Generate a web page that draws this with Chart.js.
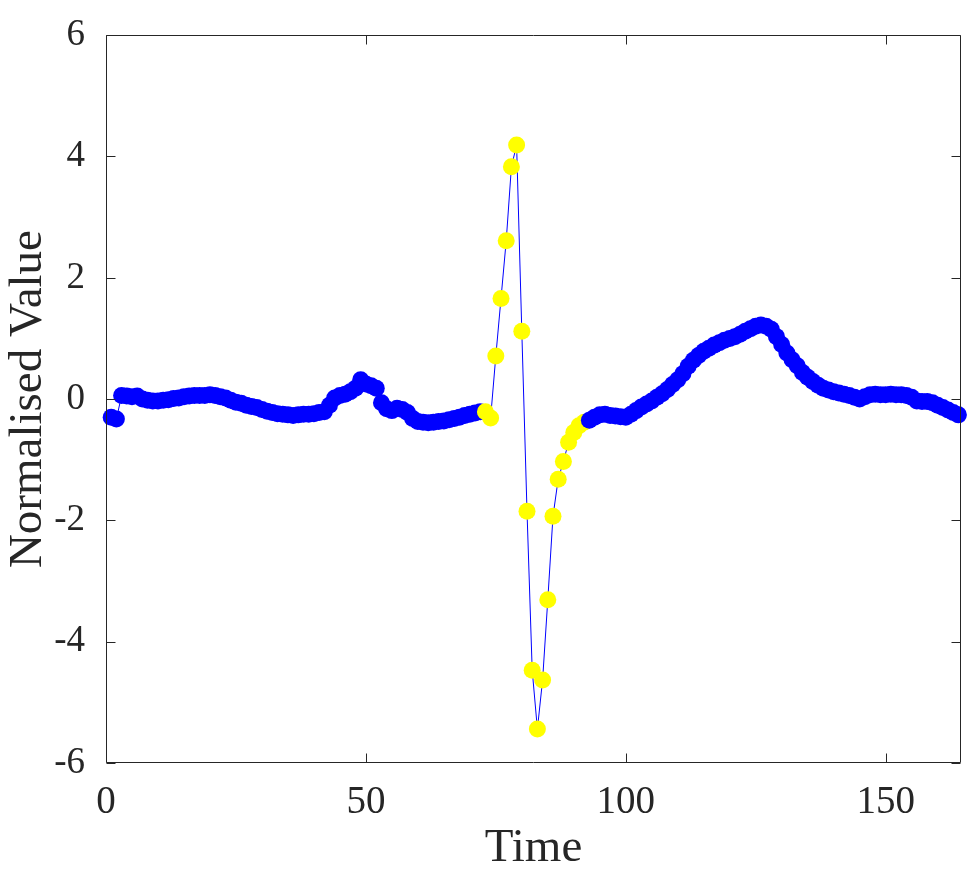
<!DOCTYPE html>
<html>
<head>
<meta charset="utf-8">
<script src="https://cdn.jsdelivr.net/npm/chart.js@4"></script>
<style>
  html, body { margin: 0; padding: 0; background: #fff; }
</style>
</head>
<body>
<canvas id="chart" width="980" height="872"></canvas>
<script>
// sample times and normalised values
const time = [
  1, 2, 3, 4, 5, 6, 7, 8, 9, 10, 11, 12, 13, 14, 15, 16, 17, 18, 19, 20,
  21, 22, 23, 24, 25, 26, 27, 28, 29, 30, 31, 32, 33, 34, 35, 36, 37, 38, 39, 40,
  41, 42, 43, 44, 45, 46, 47, 48, 49, 50, 51, 52, 53, 54, 55, 56, 57, 58, 59, 60,
  61, 62, 63, 64, 65, 66, 67, 68, 69, 70, 71, 72, 73, 74, 75, 76, 77, 78, 79, 80,
  81, 82, 83, 84, 85, 86, 87, 88, 89, 90, 91, 92, 93, 94, 95, 96, 97, 98, 99, 100,
  101, 102, 103, 104, 105, 106, 107, 108, 109, 110, 111, 112, 113, 114, 115, 116, 117, 118, 119, 120,
  121, 122, 123, 124, 125, 126, 127, 128, 129, 130, 131, 132, 133, 134, 135, 136, 137, 138, 139, 140,
  141, 142, 143, 144, 145, 146, 147, 148, 149, 150, 151, 152, 153, 154, 155, 156, 157, 158, 159, 160,
  161, 162, 163, 164
];

const value = [
  -0.30, -0.33, 0.06, 0.05, 0.04, 0.05, 0.00, -0.02, -0.03, -0.03,
  -0.02, -0.01, 0.01, 0.02, 0.04, 0.05, 0.06, 0.06, 0.06, 0.07,
  0.06, 0.04, 0.02, -0.02, -0.05, -0.07, -0.10, -0.12, -0.14, -0.17,
  -0.20, -0.22, -0.24, -0.25, -0.26, -0.27, -0.26, -0.25, -0.25, -0.24,
  -0.22, -0.21, -0.10, 0.02, 0.06, 0.08, 0.12, 0.18, 0.32, 0.25,
  0.22, 0.18, -0.06, -0.16, -0.19, -0.15, -0.17, -0.22, -0.32, -0.37,
  -0.38, -0.39, -0.38, -0.37, -0.36, -0.34, -0.32, -0.30, -0.27, -0.25,
  -0.23, -0.21, -0.21, -0.31, 0.71, 1.66, 2.61, 3.83, 4.19, 1.12,
  -1.85, -4.47, -5.44, -4.63, -3.31, -1.93, -1.32, -1.03, -0.71, -0.55,
  -0.44, -0.38, -0.35, -0.30, -0.26, -0.25, -0.27, -0.28, -0.29, -0.30,
  -0.25, -0.19, -0.13, -0.08, -0.03, 0.03, 0.09, 0.16, 0.24, 0.32,
  0.42, 0.54, 0.64, 0.72, 0.79, 0.84, 0.89, 0.93, 0.97, 1.00,
  1.03, 1.07, 1.12, 1.16, 1.20, 1.22, 1.20, 1.15, 1.03, 0.90,
  0.76, 0.65, 0.55, 0.44, 0.36, 0.29, 0.23, 0.18, 0.15, 0.12,
  0.10, 0.08, 0.06, 0.03, 0.00, 0.04, 0.07, 0.08, 0.07, 0.07,
  0.08, 0.07, 0.07, 0.06, 0.03, -0.03, -0.04, -0.04, -0.06, -0.10,
  -0.14, -0.18, -0.22, -0.26
];

// samples drawn in yellow (the beat)
const anomalyTimes = [73, 74, 75, 76, 77, 78, 79, 80, 81, 82, 83, 84, 85, 86, 87, 88, 89, 90, 91, 92];

const xTicks = [0, 50, 100, 150];
const yTicks = [-6, -4, -2, 0, 2, 4, 6];

const AXIS = '#262626';
const BLUE = '#0000ff';
const YELLOW = '#ffff00';
const SERIF = '"Liberation Serif", "DejaVu Serif", serif';

// MATLAB-style box with inward tick marks on all four sides
const frame = {
  id: 'frame',
  afterDatasetsDraw(chart) {
    const { ctx, chartArea: a, scales } = chart;
    const tl = 9;
    const L = Math.round(a.left) + 0.5;
    const R = Math.round(a.right) - 0.5;
    const T = Math.round(a.top) + 0.5;
    const B = Math.round(a.bottom) - 0.5;
    ctx.save();
    ctx.strokeStyle = AXIS;
    ctx.lineWidth = 1;
    ctx.beginPath();
    ctx.rect(L, T, R - L, B - T);
    scales.x.ticks.forEach((t) => {
      const px = Math.round(scales.x.getPixelForValue(t.value)) + 0.5;
      ctx.moveTo(px, B);
      ctx.lineTo(px, B - tl);
      ctx.moveTo(px, T);
      ctx.lineTo(px, T + tl);
    });
    scales.y.ticks.forEach((t) => {
      const py = Math.round(scales.y.getPixelForValue(t.value)) + 0.5;
      ctx.moveTo(L, py);
      ctx.lineTo(L + tl, py);
      ctx.moveTo(R, py);
      ctx.lineTo(R - tl, py);
    });
    ctx.stroke();
    ctx.restore();
  }
};

const pointColors = time.map((t) => (anomalyTimes.includes(t) ? YELLOW : BLUE));

new Chart(document.getElementById('chart').getContext('2d'), {
  type: 'line',
  data: {
    datasets: [
      {
        data: time.map((t, i) => ({ x: t, y: value[i] })),
        borderColor: BLUE,
        borderWidth: 1,
        tension: 0,
        pointRadius: 8.5,
        pointBorderWidth: 0,
        pointBackgroundColor: pointColors,
        pointBorderColor: pointColors,
        clip: false
      }
    ]
  },
  options: {
    responsive: false,
    animation: false,
    devicePixelRatio: 1,
    layout: { padding: { top: 33, right: 19, left: 0, bottom: 0 } },
    plugins: { legend: { display: false }, tooltip: { enabled: false } },
    scales: {
      x: {
        type: 'linear',
        min: 0,
        max: 164.5,
        afterBuildTicks: (s) => { s.ticks = xTicks.map((v) => ({ value: v })); },
        afterFit: (s) => { s.height = 109; },
        grid: { display: false },
        border: { display: false },
        ticks: { color: AXIS, padding: 8, maxRotation: 0, font: { family: SERIF, size: 39 } },
        title: {
          display: true,
          text: 'Time',
          color: AXIS,
          padding: { top: 0, bottom: 0 },
          font: { family: SERIF, size: 47, lineHeight: 1 }
        }
      },
      y: {
        min: -6,
        max: 6,
        afterBuildTicks: (s) => { s.ticks = yTicks.map((v) => ({ value: v })); },
        afterFit: (s) => { s.width = 106; },
        grid: { display: false },
        border: { display: false },
        ticks: { color: AXIS, padding: 13, font: { family: SERIF, size: 37 } },
        title: {
          display: true,
          text: 'Normalised Value',
          color: AXIS,
          padding: { top: 5, bottom: 0 },
          font: { family: SERIF, size: 47, lineHeight: 1 }
        }
      }
    }
  },
  plugins: [frame]
});
</script>
</body>
</html>
